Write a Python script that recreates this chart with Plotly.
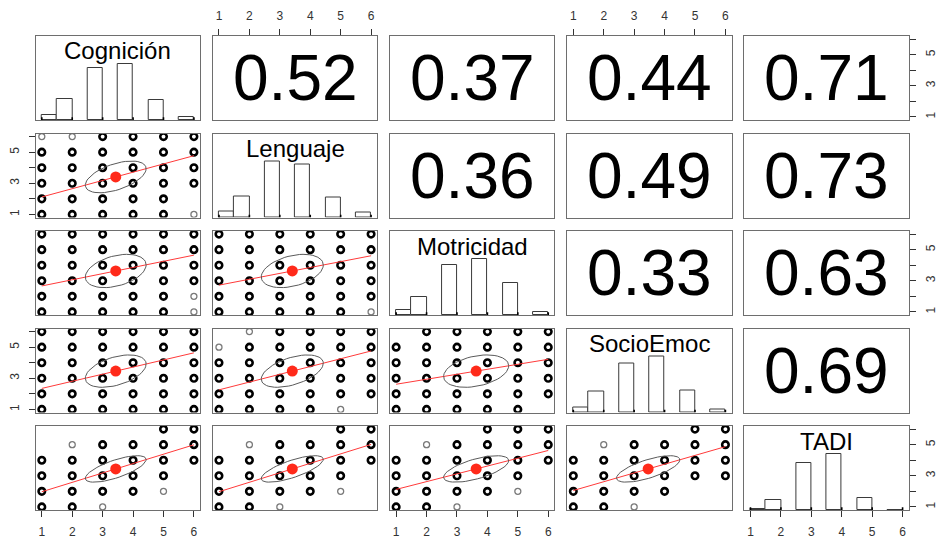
import numpy as np
import plotly.graph_objects as go

# ---------------------------------------------------------------- data
variables = ["Cognición", "Lenguaje", "Motricidad", "SocioEmoc", "TADI"]
scale_values = [1, 2, 3, 4, 5, 6]

# relative histogram heights per score 1..6 (tallest bin = 1)
hist_cognicion = [0.09, 0.37, 0.92, 1.00, 0.36, 0.06]
hist_lenguaje = [0.10, 0.38, 1.00, 0.95, 0.36, 0.09]
hist_motricidad = [0.09, 0.33, 0.90, 1.00, 0.58, 0.06]
hist_socioemoc = [0.09, 0.37, 0.87, 1.00, 0.39, 0.05]
hist_tadi = [0.01, 0.17, 0.84, 1.00, 0.22, 0.00]
hist_heights = [hist_cognicion, hist_lenguaje, hist_motricidad, hist_socioemoc, hist_tadi]

means = [3.43, 3.41, 3.63, 3.46, 3.44]
sds = [1.00, 1.02, 1.07, 1.04, 0.85]

# Pearson correlations (upper triangle)
correlations = {
    (0, 1): 0.52, (0, 2): 0.37, (0, 3): 0.44, (0, 4): 0.71,
    (1, 2): 0.36, (1, 3): 0.49, (1, 4): 0.73,
    (2, 3): 0.33, (2, 4): 0.63,
    (3, 4): 0.69,
}

# observed score combinations in each scatter panel (row var, column var)
# lines run from y = 6 down to y = 1, characters from x = 1 to x = 6
# 'B' several cases, 'g' a single case, '.' none
occupancy = {
    (1, 0): ["ggBBBB", "BBBBBB", "BBBBBB", "BBBBBB", "BBBBB.", "BBBBBg"],
    (2, 0): ["BBBBBB", "BBBBBB", "BBBBBB", "BBBBBB", "BBBBBg", "BBBBBg"],
    (2, 1): ["BBBBBB", "BBBBBB", "BBBBBB", "BBBBBB", "BBBBBB", "BBBBBg"],
    (3, 0): ["BBBBBB", "BBBBBB", "BBBBBB", "BBBBBB", "BBBBBB", "BBBBBB"],
    (3, 1): [".gBBBB", "gBBBBB", "BBBBBB", "BBBBBB", "BBBBBB", "BBBBg."],
    (3, 2): [".BBBBB", "BBBBBB", "BBBBBB", "BBBBBB", "BBBBBB", "BBBBB."],
    (4, 0): ["....BB", ".gBBBB", "BBBBBB", "BBBBB.", "BBBBg.", "BBg..."],
    (4, 1): ["....BB", ".gBBBB", "BBBBBB", "BBBBB.", "BBBBg.", "BBg..."],
    (4, 2): ["...BBB", ".gBBBB", "BBBBBB", "BBBBB.", "BBBBg.", "BBg..."],
    (4, 3): ["....BB", ".gBBBB", "BBBBBB", "BBBBBB", "BBBB..", "BBg..."],
}

# ---------------------------------------------------------------- layout
W, H = 938, 541
col_left = [36, 214.5, 393, 571.5, 750]
panel_w = 165.5
row_top = [36, 133.5, 231, 328.5, 426]
panel_h = 84
FONT = "Liberation Sans, Arial, sans-serif"
RANGE = [0.8, 6.2]

fig = go.Figure()
n = len(variables)


def ax_id(r, c):
    return r * n + c + 1


def xref(r, c):
    i = ax_id(r, c)
    return "x" if i == 1 else f"x{i}"


def yref(r, c):
    i = ax_id(r, c)
    return "y" if i == 1 else f"y{i}"


box = dict(showgrid=False, zeroline=False, showline=True, mirror=True,
           linecolor="#6e6e6e", linewidth=1.2, ticks="", showticklabels=False,
           fixedrange=True)
tick_font = dict(family=FONT, size=12, color="#333333")

for r in range(n):
    for c in range(n):
        i = ax_id(r, c)
        xa = dict(box, domain=[col_left[c] / W, (col_left[c] + panel_w) / W],
                  range=RANGE, anchor=yref(r, c))
        ya = dict(box, domain=[1 - (row_top[r] + panel_h) / H, 1 - row_top[r] / H],
                  range=[0, 1.5] if r == c else RANGE, anchor=xref(r, c))
        xtick = dict(ticks="outside", ticklen=6, tickwidth=1, tickcolor="#333",
                     tickmode="array", tickvals=scale_values,
                     ticktext=[str(v) for v in scale_values],
                     showticklabels=True, tickfont=tick_font)
        ytick = dict(ticks="outside", ticklen=6, tickwidth=1, tickcolor="#333",
                     tickmode="array", tickvals=scale_values,
                     ticktext=[str(v) if v % 2 else "" for v in scale_values],
                     showticklabels=True, tickfont=tick_font, tickangle=-90)
        if r == 0 and c in (1, 3):
            xa.update(xtick, side="top", ticklabelstandoff=4)
        if r == n - 1 and c in (0, 2, 4):
            xa.update(xtick, side="bottom", ticklabelstandoff=4)
        if c == 0 and r in (1, 3):
            ya.update(ytick, side="left", ticklabelstandoff=5)
        if c == n - 1 and r in (0, 2):
            ya.update(ytick, side="right", ticklabelstandoff=5)
        key_x = "xaxis" if i == 1 else f"xaxis{i}"
        key_y = "yaxis" if i == 1 else f"yaxis{i}"
        fig.layout[key_x] = xa
        fig.layout[key_y] = ya

# right-hand score axis for the TADI histogram row
extra = n * n + 1
fig.layout[f"yaxis{extra}"] = dict(
    overlaying=yref(n - 1, n - 1), side="right", range=RANGE,
    showgrid=False, zeroline=False, showline=False, fixedrange=True,
    ticks="outside", ticklen=6, tickwidth=1, tickcolor="#333",
    tickmode="array", tickvals=scale_values,
    ticktext=[str(v) if v % 2 else "" for v in scale_values],
    tickfont=tick_font, tickangle=-90, ticklabelstandoff=5,
    anchor=xref(n - 1, n - 1))
fig.add_trace(go.Scatter(x=[None], y=[None], xaxis=xref(n - 1, n - 1),
                         yaxis=f"y{extra}", showlegend=False, hoverinfo="skip"))

# ---------------------------------------------------------------- panels
t = np.linspace(0, 2 * np.pi, 52)
theta = 1 / np.sqrt(2)

for r in range(n):
    for c in range(n):
        xr, yr = xref(r, c), yref(r, c)
        if r == c:
            # histogram with right-closed half-unit bins
            heights = hist_heights[r]
            lefts = [v - 0.5 if v > 1 else v for v in scale_values]
            rights = [v if v > 1 else v + 0.5 for v in scale_values]
            fig.add_trace(go.Bar(
                x=[(a + b) / 2 for a, b in zip(lefts, rights)], y=heights,
                width=[b - a for a, b in zip(lefts, rights)], base=0,
                marker=dict(color="white", line=dict(color="#3a3a3a", width=1)),
                xaxis=xr, yaxis=yr, showlegend=False, hoverinfo="skip"))
            # rug
            rx, ry = [], []
            for v in scale_values:
                rx += [v, v, None]
                ry += [0, 0.05, None]
            fig.add_trace(go.Scatter(x=rx, y=ry, mode="lines",
                                     line=dict(color="black", width=1.6),
                                     xaxis=xr, yaxis=yr, showlegend=False,
                                     hoverinfo="skip"))
            fig.add_annotation(text=variables[r], xref=f"{xr} domain",
                               yref=f"{yr} domain", x=0.5, y=1 - 15 / panel_h,
                               showarrow=False, xanchor="center", yanchor="middle",
                               font=dict(family=FONT, size=24, color="black"))
        elif r < c:
            # empty trace so the panel frame and its axes are drawn
            fig.add_trace(go.Scatter(x=[None], y=[None], mode="markers",
                                     xaxis=xr, yaxis=yr, showlegend=False,
                                     hoverinfo="skip"))
            fig.add_annotation(text=f"{correlations[(r, c)]:.2f}",
                               xref=f"{xr} domain", yref=f"{yr} domain",
                               x=0.5, y=0.5, showarrow=False,
                               xanchor="center", yanchor="middle",
                               font=dict(family=FONT, size=64, color="black"))
        else:
            grid = occupancy[(r, c)]
            bx, by, gx, gy = [], [], [], []
            for k, line in enumerate(grid):
                yv = 6 - k
                for j, ch in enumerate(line):
                    xv = j + 1
                    if ch == "B":
                        bx.append(xv); by.append(yv)
                    elif ch == "g":
                        gx.append(xv); gy.append(yv)
            fig.add_trace(go.Scatter(
                x=gx, y=gy, mode="markers", xaxis=xr, yaxis=yr,
                marker=dict(symbol="circle-open", size=6, color="#7a7a7a",
                            line=dict(width=1.3)),
                showlegend=False, hoverinfo="skip"))
            fig.add_trace(go.Scatter(
                x=bx, y=by, mode="markers", xaxis=xr, yaxis=yr,
                marker=dict(symbol="circle-open", size=6.5, color="black",
                            line=dict(width=2.6)),
                showlegend=False, hoverinfo="skip"))
            # least-squares line over the observed x range
            rho = correlations[(c, r)]
            mx, my, sx, sy = means[c], means[r], sds[c], sds[r]
            slope = rho * sy / sx
            xs_all = bx + gx
            x0, x1 = min(xs_all), max(xs_all)
            fig.add_trace(go.Scatter(
                x=[x0, x1], y=[my + slope * (x0 - mx), my + slope * (x1 - mx)],
                mode="lines", line=dict(color="#ff3a3a", width=1),
                xaxis=xr, yaxis=yr, showlegend=False, hoverinfo="skip"))
            # correlation ellipse (one standard deviation)
            a, b = np.sqrt(1 + rho), np.sqrt(1 - rho)
            ex = theta * (np.cos(t) * a - np.sin(t) * b) * sx + mx
            ey = theta * (np.cos(t) * a + np.sin(t) * b) * sy + my
            fig.add_trace(go.Scatter(
                x=ex, y=ey, mode="lines", line=dict(color="#5a5a5a", width=1),
                xaxis=xr, yaxis=yr, showlegend=False, hoverinfo="skip"))
            fig.add_trace(go.Scatter(
                x=[mx], y=[my], mode="markers", xaxis=xr, yaxis=yr,
                marker=dict(symbol="circle", size=11, color="#ff2a1a"),
                showlegend=False, hoverinfo="skip"))

fig.update_layout(
    width=W, height=H, margin=dict(l=0, r=0, t=0, b=0),
    paper_bgcolor="white", plot_bgcolor="white",
    bargap=0, barmode="overlay", showlegend=False,
)

fig.write_html("out.html")
